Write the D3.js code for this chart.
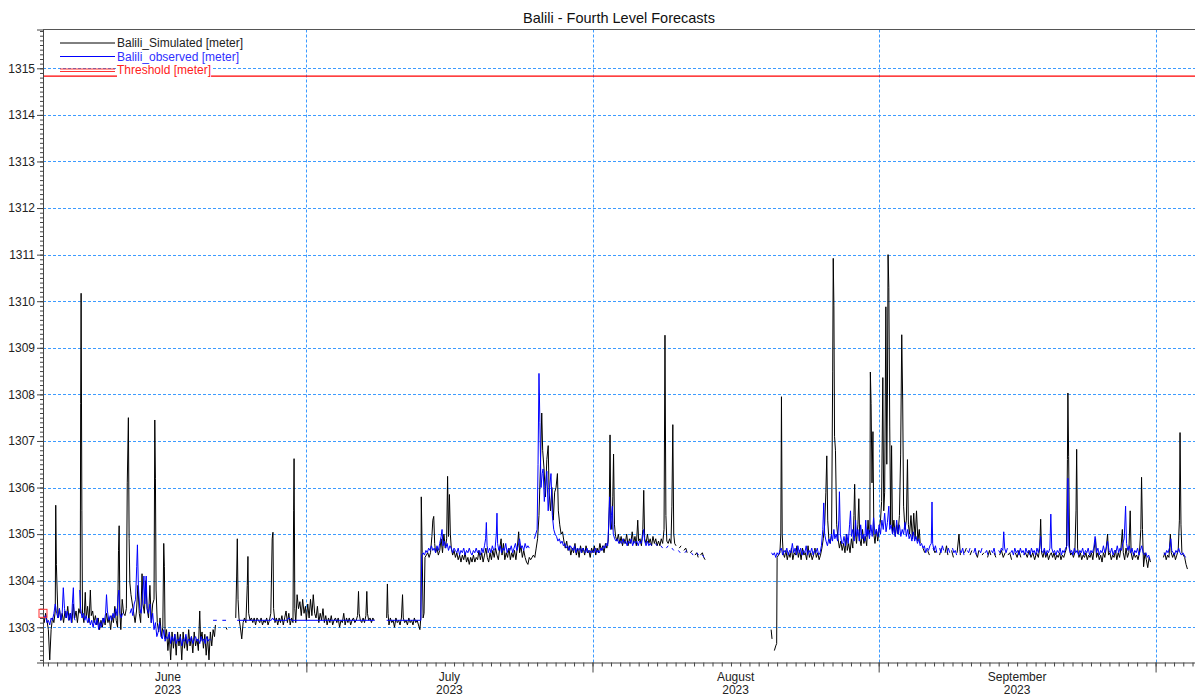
<!DOCTYPE html>
<html>
<head>
<meta charset="utf-8">
<script src="https://cdn.jsdelivr.net/npm/d3@7"></script>
<style>
body { margin: 0; background: #fff; }
svg { display: block; font-family: Arial, "Liberation Sans", sans-serif; }
</style>
</head>
<body>
<div id="chart"></div>
<script>
// values are [days since 1 June 2023, level in meter], null = gap
var simJun = [[1.47,1303.25],[1.6,1303.1],[1.75,1303.3],[1.9,1303.15],[2.05,1302.95],[2.2,1302.3],[2.35,1302.95],[2.5,1303.2],[2.65,1303.1],[2.8,1303.35],[2.85,1305.62],[2.92,1304.35],[3.0,1303.8],[3.1,1303.2],[3.25,1303.4],[3.4,1303.15],[3.55,1303.3],[3.7,1303.1],[3.85,1303.35],[4.0,1303.2],[4.15,1303.45],[4.3,1303.15],[4.45,1303.3],[4.6,1303.1],[4.75,1303.5],[4.9,1303.2],[5.05,1303.35],[5.2,1303.1],[5.35,1303.4],[5.5,1303.3],[5.55,1307.8],[5.6,1310.17],[5.68,1305.5],[5.75,1303.3],[5.9,1303.1],[6.05,1303.75],[6.15,1303.2],[6.3,1303.45],[6.45,1303.1],[6.6,1303.8],[6.7,1303.25],[6.85,1303.35],[7.0,1303.1],[7.15,1303.25],[7.3,1303.05],[7.45,1303.2],[7.6,1302.95],[7.75,1303.15],[7.9,1303.0],[8.05,1303.2],[8.2,1303.05],[8.35,1303.3],[8.5,1303.1],[8.65,1303.2],[8.8,1302.95],[8.95,1303.25],[9.1,1303.1],[9.25,1303.45],[9.4,1303.15],[9.55,1303.0],[9.65,1304.65],[9.72,1305.18],[9.8,1303.3],[9.9,1302.95],[10.05,1303.6],[10.2,1303.3],[10.35,1303.25],[10.5,1303.4],[10.6,1306.1],[10.72,1307.5],[10.8,1304.9],[10.88,1303.95],[11.0,1303.7],[11.15,1303.5],[11.3,1303.3],[11.45,1303.1],[11.6,1303.35],[11.75,1303.9],[11.9,1303.3],[12.05,1303.1],[12.2,1304.15],[12.3,1303.5],[12.45,1303.3],[12.6,1304.0],[12.75,1303.4],[12.9,1303.2],[13.05,1303.9],[13.2,1303.1],[13.35,1303.5],[13.5,1303.6],[13.58,1307.45],[13.65,1306.2],[13.72,1303.8],[13.85,1303.1],[14.0,1302.9],[14.15,1303.2],[14.3,1302.8],[14.45,1303.0],[14.55,1304.8],[14.62,1304.3],[14.7,1302.75],[14.85,1302.95],[15.0,1302.5],[15.15,1302.85],[15.3,1302.3],[15.45,1302.9],[15.6,1302.55],[15.75,1302.85],[15.9,1302.4],[16.05,1302.9],[16.2,1302.6],[16.35,1302.85],[16.5,1302.3],[16.65,1302.9],[16.8,1302.55],[16.95,1302.8],[17.1,1302.5],[17.25,1302.95],[17.4,1302.6],[17.55,1302.8],[17.7,1302.45],[17.85,1302.9],[18.0,1302.6],[18.15,1302.75],[18.3,1302.5],[18.45,1303.35],[18.55,1302.7],[18.7,1302.9],[18.85,1302.55],[19.0,1302.85],[19.15,1302.4],[19.3,1302.8],[19.45,1302.3],[19.6,1302.9],[19.75,1302.6],[19.9,1302.95],[20.05,1302.8],[20.15,1303.05],null,[21.3,1303.0],[21.4,1302.95],null,
  [22.35,1303.2],[22.45,1304.1],[22.52,1304.9],[22.6,1303.6],[22.7,1303.2],[22.85,1303.0],[23.0,1302.75],[23.15,1303.1],[23.3,1303.2],[23.45,1303.1],[23.6,1303.9],[23.67,1304.52],[23.75,1303.3],[23.9,1303.15],[24.05,1303.2],[24.2,1303.1],[24.35,1303.2],[24.5,1303.05],[24.65,1303.2],[24.8,1303.15],[24.95,1303.1],[25.1,1303.2],[25.25,1303.05],[25.4,1303.15],[25.55,1303.1],[25.7,1303.2],[25.85,1303.05],[26.0,1303.15],[26.15,1303.3],[26.3,1304.9],[26.38,1305.04],[26.45,1303.4],[26.6,1303.1],[26.75,1303.2],[26.9,1303.05],[27.05,1303.2],[27.2,1303.1],[27.35,1303.25],[27.5,1303.05],[27.65,1303.2],[27.8,1303.35],[27.95,1303.1],[28.1,1303.3],[28.25,1303.05],[28.4,1303.2],[28.55,1303.1],[28.62,1305.5],[28.67,1306.62],[28.75,1303.4],[28.85,1303.1],[29.0,1303.7],[29.15,1303.4],[29.3,1303.55],[29.45,1303.25],[29.6,1303.6],[29.75,1303.3],[29.9,1303.45],[30.0,1303.15]];

var simJul = [[30.15,1303.5],[30.3,1303.2],[30.45,1303.6],[30.6,1303.25],[30.75,1303.7],[30.9,1303.3],[31.05,1303.2],[31.2,1303.45],[31.35,1303.1],[31.5,1303.3],[31.65,1303.15],[31.8,1303.4],[31.95,1303.1],[32.1,1303.25],[32.25,1303.05],[32.4,1303.2],[32.55,1303.1],[32.7,1303.25],[32.85,1303.05],[33.0,1303.15],[33.15,1303.2],[33.3,1303.1],[33.45,1303.2],[33.6,1303.0],[33.75,1303.15],[33.9,1303.1],[34.05,1303.3],[34.2,1303.05],[34.35,1303.2],[34.5,1303.1],[34.65,1303.2],[34.8,1303.05],[34.95,1303.15],[35.1,1303.2],[35.25,1303.1],[35.4,1303.15],[35.55,1303.25],[35.65,1303.77],[35.72,1303.3],[35.85,1303.15],[36.0,1303.1],[36.15,1303.2],[36.3,1303.1],[36.45,1303.25],[36.55,1303.77],[36.62,1303.3],[36.75,1303.15],[36.9,1303.2],[37.05,1303.1],[37.2,1303.2],[37.35,1303.15],null,
  [38.7,1303.2],[38.78,1303.93],[38.85,1303.3],[38.95,1303.05],[39.1,1303.2],[39.25,1303.1],[39.4,1303.15],[39.55,1303.0],[39.7,1303.2],[39.85,1303.1],[40.0,1303.15],[40.15,1303.05],[40.3,1303.2],[40.42,1303.7],[40.5,1303.2],[40.65,1303.1],[40.8,1303.15],[40.95,1303.05],[41.1,1303.2],[41.25,1303.1],[41.4,1303.15],[41.55,1303.05],[41.7,1303.2],[41.85,1303.1],[42.0,1303.15],[42.15,1303.05],[42.3,1302.95],[42.4,1303.2],[42.45,1305.8],[42.55,1304.6],[42.65,1303.2],[42.75,1303.3],[42.85,1304.5],[43.0,1304.55],[43.15,1304.6],[43.3,1304.5],[43.45,1304.6],[43.6,1304.95],[43.7,1305.3],[43.8,1305.38],[43.9,1304.8],[44.0,1304.6],[44.15,1304.7],[44.3,1304.55],[44.45,1304.65],[44.6,1304.9],[44.75,1304.6],[44.9,1305.0],[45.05,1304.7],[45.2,1304.9],[45.3,1306.24],[45.4,1304.95],[45.5,1305.85],[45.6,1305.0],[45.7,1304.7],[45.85,1304.55],[46.0,1304.65],[46.15,1304.5],[46.3,1304.6],[46.45,1304.45],[46.6,1304.55],[46.75,1304.4],[46.9,1304.55],[47.05,1304.45],[47.2,1304.6],[47.35,1304.4],[47.5,1304.5],[47.65,1304.35],[47.8,1304.5],[47.95,1304.4],[48.1,1304.55],[48.25,1304.4],[48.4,1304.5],[48.55,1304.45],[48.7,1304.65],[48.85,1304.45],[49.0,1304.6],[49.15,1304.4],[49.3,1304.55],[49.45,1304.7],[49.6,1304.5],[49.75,1304.4],[49.9,1304.6],[50.05,1304.45],[50.2,1304.65],[50.35,1304.5],[50.5,1304.7],[50.65,1304.55],[50.8,1304.45],[50.95,1304.7],[51.1,1304.9],[51.2,1304.55],[51.35,1304.8],[51.5,1304.45],[51.65,1304.6],[51.8,1304.5],[51.95,1304.7],[52.1,1304.45],[52.25,1304.6],[52.4,1304.5],[52.55,1304.65],[52.7,1304.45],[52.85,1304.7],[53.0,1305.05],[53.1,1304.6],[53.25,1304.75],[53.4,1304.5],[53.55,1304.65],[53.7,1304.5],[53.85,1304.4],[54.0,1304.35],[54.15,1304.5],[54.3,1304.45],[54.45,1304.5],[54.6,1304.55],[54.75,1304.5],[54.9,1304.7],[55.05,1304.9],[55.2,1305.4],[55.35,1306.4],[55.5,1307.6],[55.6,1306.8],[55.75,1306.4],[55.9,1305.8],[56.05,1306.6],[56.2,1306.9],[56.3,1305.9],[56.45,1305.5],[56.6,1306.0],[56.75,1305.3],[56.9,1305.9],[57.05,1306.0],[57.2,1306.3],[57.3,1305.5],[57.45,1305.2],[57.6,1305.0],[57.75,1305.05],[57.9,1304.85],[58.05,1304.7],[58.2,1304.85],[58.35,1304.65],[58.5,1304.75],[58.65,1304.55],[58.8,1304.7],[58.95,1304.6],[59.1,1304.8],[59.25,1304.55],[59.4,1304.7],[59.55,1304.5],[59.7,1304.75],[59.85,1304.6],[60.0,1304.7],[60.15,1304.55],[60.3,1304.75],[60.45,1304.6],[60.6,1304.65],[60.75,1304.5],[60.9,1304.7]];

var simAug = [[61.05,1304.6],[61.2,1304.75],[61.35,1304.55],[61.5,1304.7],[61.65,1304.6],[61.8,1304.8],[61.95,1304.65],[62.1,1304.75],[62.25,1304.6],[62.4,1304.8],[62.55,1304.7],[62.7,1304.85],[62.82,1305.6],[62.9,1307.13],[62.98,1305.3],[63.1,1305.1],[63.2,1305.8],[63.28,1306.72],[63.38,1305.2],[63.5,1304.95],[63.65,1304.85],[63.8,1305.0],[63.95,1304.8],[64.1,1304.95],[64.25,1304.75],[64.4,1304.9],[64.55,1304.8],[64.7,1305.0],[64.85,1304.75],[65.0,1304.9],[65.15,1304.8],[65.3,1305.05],[65.45,1304.8],[65.6,1304.95],[65.75,1304.75],[65.9,1305.3],[66.0,1304.85],[66.15,1304.9],[66.3,1304.75],[66.45,1305.1],[66.55,1305.94],[66.65,1304.9],[66.8,1304.8],[66.95,1305.0],[67.1,1304.8],[67.25,1304.9],[67.4,1304.75],[67.55,1304.95],[67.7,1304.8],[67.85,1304.9],[68.0,1304.75],[68.15,1304.85],[68.3,1304.75],[68.45,1304.9],[68.6,1304.8],[68.75,1305.1],[68.85,1309.27],[68.95,1305.4],[69.05,1304.85],[69.2,1304.8],[69.35,1304.9],[69.5,1304.8],[69.6,1305.6],[69.7,1307.35],[69.8,1305.0],[69.9,1304.8],[70.05,1304.75],null,[70.4,1304.7],[70.6,1304.75],null,[70.9,1304.65],[71.1,1304.7],[71.25,1304.6],null,[71.6,1304.6],[71.8,1304.65],null,[72.1,1304.55],[72.3,1304.6],[72.45,1304.5],null,[72.7,1304.55],[72.9,1304.6],[73.05,1304.5],[73.2,1304.45],null,
  [80.35,1302.95],[80.45,1302.75],null,[80.7,1302.5],[80.85,1302.6],[80.95,1302.65],[81.0,1304.5],[81.15,1304.55],[81.3,1304.6],[81.4,1305.0],[81.47,1307.95],[81.55,1305.0],[81.65,1304.6],[81.8,1304.5],[81.95,1304.65],[82.1,1304.45],[82.25,1304.6],[82.4,1304.5],[82.55,1304.7],[82.7,1304.45],[82.85,1304.6],[83.0,1304.55],[83.15,1304.75],[83.3,1304.5],[83.45,1304.65],[83.6,1304.45],[83.75,1304.7],[83.9,1304.55],[84.05,1304.6],[84.2,1304.45],[84.35,1304.75],[84.5,1304.5],[84.65,1304.6],[84.8,1304.45],[84.95,1304.55],[85.1,1304.7],[85.25,1304.5],[85.4,1304.6],[85.55,1304.45],[85.7,1304.55],[85.85,1304.7],[86.0,1304.9],[86.15,1305.2],[86.28,1305.9],[86.38,1306.68],[86.48,1305.3],[86.6,1304.9],[86.75,1304.8],[86.9,1305.0],[87.02,1308.5],[87.08,1310.92],[87.15,1309.9],[87.22,1307.1],[87.32,1306.8],[87.45,1305.2],[87.6,1304.9],[87.75,1304.7],[87.9,1304.85],[88.05,1304.65],[88.2,1304.8],[88.35,1304.6],[88.5,1305.0],[88.6,1304.65],[88.75,1304.8],[88.9,1304.6],[89.05,1304.9],[89.2,1304.7],[89.32,1305.4],[89.4,1306.07],[89.5,1305.0],[89.6,1304.8],[89.75,1305.2],[89.85,1305.76],[89.95,1304.9],[90.1,1304.75],[90.25,1305.1],[90.4,1304.8],[90.55,1304.95],[90.7,1304.75],[90.85,1305.3],[90.95,1305.0],[91.05,1305.1],[91.1,1308.48],[91.18,1307.8],[91.28,1306.1],[91.38,1307.2],[91.48,1305.0],[91.6,1304.8],[91.75,1305.1],[91.9,1304.85]];

var simSep = [[92.05,1305.1],[92.2,1305.3],[92.32,1305.7],[92.45,1308.36],[92.55,1305.5],[92.65,1305.9],[92.78,1309.88],[92.88,1306.5],[92.95,1308.0],[93.02,1311.0],[93.1,1310.3],[93.2,1307.3],[93.3,1305.2],[93.4,1306.9],[93.5,1305.0],[93.65,1305.3],[93.8,1304.95],[93.95,1305.2],[94.1,1305.0],[94.25,1305.4],[94.38,1306.7],[94.5,1309.28],[94.6,1307.9],[94.7,1305.6],[94.85,1305.1],[95.0,1305.3],[95.12,1306.6],[95.22,1305.2],[95.35,1305.0],[95.5,1305.4],[95.65,1304.9],[95.8,1305.45],[95.95,1304.9],[96.1,1305.5],[96.25,1304.85],[96.4,1305.1],[96.5,1304.8],null,
  [96.8,1304.7],[97.0,1304.6],null,[97.3,1304.65],[97.5,1304.55],null,[97.9,1304.7],[98.1,1304.6],[98.25,1304.65],null,[98.6,1304.55],[98.8,1304.7],null,[99.2,1304.6],[99.35,1304.75],[99.5,1304.55],null,[99.9,1304.65],[100.1,1304.5],null,[100.5,1304.6],[100.7,1305.0],[100.85,1304.55],null,[101.3,1304.6],[101.5,1304.7],null,[101.9,1304.55],[102.1,1304.65],null,[102.5,1304.6],[102.7,1304.5],[102.85,1304.65],null,[103.2,1304.55],[103.4,1304.6],null,[103.8,1304.5],[104.0,1304.65],[104.15,1304.55],null,[104.5,1304.6],[104.7,1304.5],null,[105.1,1304.55],[105.3,1304.65],[105.5,1304.5],[105.7,1304.6],null,[106.0,1304.55],[106.2,1304.6],[106.4,1304.45],null,[106.8,1304.6],[107.0,1304.5],[107.2,1304.65],[107.4,1304.5],null,
  [107.7,1304.55],[107.9,1304.6],[108.1,1304.5],[108.3,1304.65],[108.5,1304.5],[108.7,1304.6],[108.9,1304.45],[109.1,1304.6],[109.3,1304.5],[109.45,1304.7],[109.55,1305.32],[109.65,1304.6],[109.8,1304.5],[109.95,1304.65],[110.1,1304.5],[110.25,1304.6],[110.4,1304.45],[110.55,1304.55],[110.7,1304.6],[110.85,1304.5],[111.0,1304.6],[111.15,1304.45],[111.3,1304.55],[111.45,1304.5],[111.6,1304.6],[111.75,1304.45],[111.9,1304.55],[112.05,1304.5],[112.2,1304.6],[112.35,1304.7],[112.45,1306.6],[112.5,1308.03],[112.58,1306.67],[112.68,1304.7],[112.8,1304.55],[112.95,1304.6],[113.1,1304.5],[113.25,1304.6],[113.38,1305.5],[113.45,1306.82],[113.55,1304.7],[113.7,1304.5],[113.85,1304.6],[114.0,1304.45],[114.15,1304.55],[114.3,1304.5],[114.45,1304.6],[114.6,1304.45],[114.75,1304.55],[114.9,1304.5],[115.05,1304.6],[115.2,1304.45],[115.35,1304.7],[115.5,1304.9],[115.6,1304.5],[115.75,1304.6],[115.9,1304.45],[116.05,1304.55],[116.2,1304.4],[116.35,1304.6],[116.5,1304.5],[116.65,1304.7],[116.8,1305.0],[116.9,1304.55],[117.05,1304.6],[117.2,1304.45],[117.35,1304.55],[117.5,1304.5],[117.65,1304.65],[117.8,1304.45],[117.95,1304.6],[118.1,1304.5],[118.25,1304.7],[118.4,1305.1],[118.5,1304.6],[118.65,1304.45],[118.8,1304.7],[118.95,1304.5],[119.1,1304.6],[119.25,1305.5],[119.35,1304.6],[119.5,1304.45],[119.65,1304.6],[119.8,1304.5],[119.95,1304.55],[120.1,1304.45],[120.25,1304.6],[120.4,1305.1],[120.48,1306.22],[120.58,1305.1],[120.7,1304.3],[120.85,1304.6],[121.0,1304.45],[121.15,1304.28],[121.3,1304.5],[121.45,1304.4],null,
  [122.85,1304.5],[123.0,1304.6],[123.15,1304.45],[123.3,1304.55],[123.45,1304.5],[123.6,1305.0],[123.7,1304.6],[123.85,1304.5],[124.0,1304.6],[124.15,1304.45],[124.3,1304.55],[124.45,1304.65],[124.58,1305.3],[124.65,1307.18],[124.75,1305.2],[124.85,1304.6],[125.0,1304.55],[125.15,1304.5],[125.3,1304.35],[125.45,1304.25]];

var obsJun = [[1.47,1303.3],[1.6,1303.2],[1.75,1303.25],[1.9,1303.1],[2.05,1303.15],[2.2,1303.05],[2.35,1303.2],[2.5,1303.15],[2.65,1303.3],[2.8,1303.5],[2.95,1303.3],[3.1,1303.2],[3.25,1303.4],[3.4,1303.15],[3.55,1303.3],[3.67,1303.85],[3.8,1303.4],[3.95,1303.2],[4.1,1303.35],[4.25,1303.15],[4.4,1303.3],[4.55,1303.1],[4.65,1303.5],[4.76,1303.85],[4.85,1303.2],[4.95,1303.15],null,
  [5.45,1303.8],[5.55,1303.4],[5.7,1303.2],[5.85,1303.3],[6.0,1303.15],[6.15,1303.25],[6.3,1303.1],[6.45,1303.2],[6.6,1303.05],[6.75,1303.15],[6.9,1303.0],[7.05,1303.15],[7.2,1303.05],[7.35,1303.2],[7.5,1302.95],[7.65,1303.1],[7.8,1303.0],[7.95,1303.2],[8.1,1303.1],[8.25,1303.3],[8.35,1303.7],[8.45,1303.35],[8.6,1303.15],[8.75,1303.25],[8.9,1303.15],[9.05,1303.3],[9.2,1303.2],[9.35,1303.4],[9.5,1303.25],[9.6,1303.65],[9.7,1303.8],[9.8,1303.3],[9.95,1303.2],[10.1,1303.3],null,
  [10.9,1303.3],[11.05,1303.4],[11.2,1303.25],[11.35,1303.5],[11.5,1303.6],[11.62,1304.3],[11.7,1304.77],[11.8,1303.9],[11.95,1303.4],[12.1,1303.3],[12.25,1303.6],[12.4,1304.1],[12.5,1303.5],[12.65,1304.1],[12.75,1303.4],[12.9,1303.3],[13.05,1303.5],[13.2,1303.1],[13.35,1303.3],[13.5,1302.95],[13.65,1303.1],[13.8,1302.8],[13.95,1302.9],[14.1,1303.1],[14.25,1302.8],[14.4,1302.75],[14.55,1302.95],[14.7,1302.7],[14.85,1302.8],[15.0,1302.75],[15.15,1302.9],[15.3,1302.65],[15.45,1302.8],[15.6,1302.7],[15.75,1302.85],[15.9,1302.65],[16.05,1302.75],[16.2,1302.7],[16.35,1302.8],[16.5,1302.6],[16.65,1302.75],[16.8,1302.7],[16.95,1302.85],[17.1,1302.65],[17.25,1302.75],[17.4,1302.7],[17.55,1302.8],[17.7,1302.65],[17.85,1302.75],[18.0,1302.8],[18.15,1302.7],[18.3,1302.75],[18.45,1302.65],[18.6,1302.8],[18.75,1302.7],[18.9,1302.75],[19.05,1302.65],[19.2,1302.8],[19.35,1302.7],[19.5,1302.75],[19.65,1302.72],null,
  [19.9,1303.15],[20.3,1303.15],null,[20.9,1303.15],[21.3,1303.15],null,[22.5,1303.15],[26.2,1303.15],[26.35,1303.2],[26.5,1303.15],[27.9,1303.15],[28.1,1303.2],[28.4,1303.15],[30.0,1303.15]];

var obsJul = [[30.0,1303.15],[37.4,1303.15],null,[38.7,1303.15],[42.4,1303.15],[42.5,1304.55],[42.65,1304.6],[42.8,1304.55],[42.95,1304.65],[43.1,1304.6],[43.25,1304.7],[43.4,1304.65],[43.55,1304.75],[43.7,1304.65],[43.85,1304.7],[44.0,1304.6],[44.15,1304.75],[44.3,1304.65],[44.45,1304.8],[44.6,1304.95],[44.7,1305.1],[44.8,1304.75],[44.95,1304.85],[45.1,1304.7],[45.25,1304.8],[45.4,1304.65],[45.55,1304.75],[45.7,1304.7],[45.85,1304.6],[46.0,1304.7],[46.15,1304.65],[46.3,1304.6],[46.45,1304.7],[46.6,1304.55],[46.75,1304.65],[46.9,1304.6],[47.05,1304.7],[47.2,1304.55],[47.35,1304.65],[47.5,1304.6],[47.65,1304.7],[47.8,1304.6],[47.95,1304.55],[48.1,1304.65],[48.25,1304.6],[48.4,1304.7],[48.55,1304.6],[48.7,1304.65],[48.85,1304.55],[49.0,1304.7],[49.15,1304.6],[49.3,1304.75],[49.42,1304.9],[49.5,1305.25],[49.58,1304.75],[49.7,1304.6],[49.85,1304.7],[50.0,1304.6],[50.15,1304.75],[50.3,1304.65],[50.45,1304.7],[50.58,1305.0],[50.65,1305.45],[50.72,1304.8],[50.85,1304.65],[51.0,1304.75],[51.15,1304.6],[51.3,1304.7],[51.45,1304.65],[51.6,1304.8],[51.75,1304.6],[51.9,1304.7],[52.05,1304.65],[52.2,1304.75],[52.35,1304.6],[52.5,1304.7],[52.65,1304.8],[52.8,1304.65],[52.95,1304.75],[53.1,1304.9],[53.25,1304.7],[53.4,1304.75],[53.55,1304.65],[53.7,1304.8],[53.85,1304.7],[54.0,1304.75],[54.15,1304.7],null,
  [54.7,1304.9],[54.85,1305.0],[55.0,1305.1],[55.1,1306.5],[55.2,1308.45],[55.3,1307.4],[55.42,1306.0],[55.55,1306.3],[55.65,1306.4],[55.78,1305.7],[55.9,1306.0],[56.05,1306.35],[56.2,1305.5],[56.35,1306.0],[56.5,1306.3],[56.65,1305.4],[56.8,1305.1],[56.95,1305.0],[57.1,1304.95],[57.25,1304.85],[57.4,1304.9],[57.55,1304.8],[57.7,1304.85],[57.85,1304.75],[58.0,1304.8],[58.15,1304.7],[58.3,1304.75],[58.45,1304.65],[58.6,1304.75],[58.75,1304.7],[58.9,1304.65],[59.05,1304.75],[59.2,1304.6],[59.35,1304.7],[59.5,1304.65],[59.65,1304.7],[59.8,1304.6],[59.95,1304.7],[60.1,1304.65],[60.25,1304.6],[60.4,1304.7],[60.55,1304.6],[60.7,1304.65],[60.85,1304.6]];

var obsAug = [[61.0,1304.65],[61.15,1304.6],[61.3,1304.7],[61.45,1304.6],[61.6,1304.65],[61.75,1304.6],[61.9,1304.7],[62.05,1304.65],[62.2,1304.75],[62.35,1304.7],[62.5,1304.8],[62.65,1304.75],[62.75,1305.2],[62.85,1305.8],[62.95,1305.1],[63.05,1305.4],[63.15,1305.6],[63.25,1305.0],[63.4,1304.9],[63.55,1304.85],[63.7,1304.9],[63.85,1304.8],[64.0,1304.85],[64.15,1304.8],[64.3,1304.9],[64.45,1304.8],[64.6,1304.85],[64.75,1304.75],[64.9,1304.85],[65.05,1304.8],[65.2,1304.9],[65.35,1304.75],[65.5,1304.85],[65.65,1304.8],[65.8,1304.85],[65.95,1304.75],[66.1,1304.85],[66.25,1304.8],[66.4,1304.9],[66.55,1305.1],[66.65,1304.85],[66.8,1304.75],[66.95,1304.85],[67.1,1304.75],[67.25,1304.8],[67.4,1304.75],null,[67.8,1304.8],[68.0,1304.75],null,[68.4,1304.75],[68.6,1304.7],null,[69.0,1304.7],[69.2,1304.75],null,[69.6,1304.7],[69.8,1304.65],null,[70.3,1304.65],[70.5,1304.6],null,[71.0,1304.6],[71.2,1304.65],null,[71.7,1304.6],[71.9,1304.55],null,[72.3,1304.6],[72.5,1304.55],null,[72.9,1304.55],[73.1,1304.5],null,
  [80.4,1304.6],[80.55,1304.55],[80.7,1304.6],[80.85,1304.5],[81.0,1304.6],[81.15,1304.55],[81.3,1304.65],[81.45,1304.7],[81.6,1304.55],[81.75,1304.65],[81.9,1304.6],[82.05,1304.7],[82.2,1304.55],[82.35,1304.65],[82.5,1304.6],[82.65,1304.8],[82.8,1304.6],[82.95,1304.7],[83.1,1304.55],[83.25,1304.75],[83.4,1304.6],[83.55,1304.7],[83.7,1304.55],[83.85,1304.65],[84.0,1304.6],[84.15,1304.75],[84.3,1304.55],[84.45,1304.65],[84.6,1304.6],[84.75,1304.7],[84.9,1304.55],[85.05,1304.65],[85.2,1304.6],[85.35,1304.7],[85.5,1304.55],[85.65,1304.6],[85.8,1304.75],[85.95,1305.1],[86.05,1305.67],[86.15,1305.0],[86.3,1304.85],[86.45,1304.75],[86.6,1304.9],[86.75,1304.8],[86.9,1305.0],[87.0,1304.85],[87.15,1305.1],[87.25,1304.9],[87.4,1305.0],[87.55,1304.85],[87.68,1305.3],[87.75,1305.91],[87.85,1305.0],[88.0,1304.8],[88.1,1304.8],[88.25,1304.95],[88.4,1304.75],[88.55,1305.0],[88.7,1304.8],[88.85,1305.2],[88.95,1305.5],[89.05,1304.95],[89.2,1305.1],[89.35,1304.85],[89.5,1305.3],[89.6,1304.95],[89.75,1305.1],[89.9,1304.85],[90.05,1305.2],[90.2,1304.9],[90.35,1305.0],[90.5,1304.85],[90.6,1305.3],[90.7,1304.95],[90.85,1305.1],[91.0,1304.9],[91.15,1305.2],[91.3,1304.95],[91.45,1305.35],[91.6,1305.0],[91.75,1305.1],[91.9,1304.95]];

var obsSep = [[92.05,1305.2],[92.2,1305.0],[92.35,1305.3],[92.5,1305.1],[92.65,1305.45],[92.8,1305.05],[92.95,1305.25],[93.1,1305.6],[93.2,1305.1],[93.35,1305.2],[93.5,1305.0],[93.65,1305.15],[93.8,1304.95],[93.95,1305.3],[94.1,1305.0],[94.25,1305.2],[94.4,1304.95],[94.55,1305.1],[94.7,1305.0],[94.85,1305.25],[95.0,1304.95],[95.15,1305.1],[95.3,1304.9],[95.45,1305.0],[95.6,1304.85],[95.75,1305.05],[95.9,1304.85],[96.05,1304.95],[96.2,1304.8],[96.35,1304.9],[96.5,1304.75],[96.65,1304.8],[96.8,1304.7],[96.95,1304.75],[97.1,1304.6],[97.25,1304.7],[97.4,1304.65],[97.55,1304.75],[97.7,1304.8],[97.78,1305.69],[97.85,1304.8],[98.0,1304.65],[98.15,1304.75],[98.3,1304.6],null,
  [98.6,1304.7],[98.75,1304.6],[98.9,1304.75],[99.05,1304.65],null,[99.4,1304.6],[99.55,1304.7],[99.7,1304.6],null,[100.0,1304.7],[100.15,1304.6],[100.3,1304.65],[100.45,1304.55],null,[100.8,1304.65],[100.95,1304.6],[101.1,1304.7],[101.25,1304.55],null,[101.6,1304.65],[101.75,1304.6],[101.9,1304.7],null,[102.3,1304.6],[102.45,1304.7],[102.6,1304.55],null,[102.9,1304.65],[103.05,1304.6],[103.2,1304.7],null,[103.55,1304.6],[103.7,1304.65],[103.85,1304.55],null,[104.2,1304.65],[104.35,1304.6],[104.5,1304.7],[104.65,1304.55],null,
  [105.0,1304.65],[105.15,1304.6],[105.3,1304.7],[105.45,1304.65],[105.55,1305.05],[105.65,1304.7],[105.8,1304.6],[105.95,1304.7],null,[106.3,1304.6],[106.45,1304.65],[106.6,1304.55],[106.75,1304.7],[106.9,1304.6],[107.05,1304.65],[107.2,1304.55],[107.35,1304.7],[107.5,1304.6],[107.65,1304.65],[107.8,1304.55],[107.95,1304.7],[108.1,1304.6],[108.25,1304.65],[108.4,1304.55],[108.55,1304.7],[108.7,1304.6],[108.85,1304.65],[109.0,1304.55],[109.15,1304.7],[109.3,1304.6],[109.45,1304.75],[109.55,1304.95],[109.65,1304.65],[109.8,1304.6],[109.95,1304.7],[110.1,1304.55],[110.25,1304.65],[110.4,1304.6],[110.55,1304.7],[110.65,1305.43],[110.75,1304.7],[110.9,1304.6],[111.05,1304.65],[111.2,1304.55],[111.35,1304.65],[111.5,1304.6],[111.65,1304.7],[111.8,1304.55],[111.95,1304.65],[112.1,1304.6],[112.25,1304.7],[112.4,1304.75],[112.5,1306.2],[112.6,1304.75],[112.75,1304.6],[112.9,1304.65],[113.05,1304.55],[113.2,1304.7],[113.35,1304.6],[113.5,1304.65],[113.65,1304.55],[113.8,1304.65],[113.95,1304.6],[114.1,1304.7],[114.25,1304.55],[114.4,1304.65],[114.55,1304.6],[114.7,1304.7],[114.85,1304.55],[115.0,1304.65],[115.15,1304.6],[115.3,1304.7],[115.45,1304.95],[115.6,1304.6],[115.75,1304.7],[115.9,1304.55],[116.05,1304.65],[116.2,1304.6],[116.35,1304.75],[116.5,1304.6],[116.65,1304.7],[116.8,1304.85],[116.95,1304.65],[117.1,1304.6],[117.25,1304.7],[117.4,1304.55],[117.55,1304.65],[117.7,1304.6],[117.85,1304.75],[118.0,1304.6],[118.15,1304.7],[118.3,1304.65],[118.45,1304.8],[118.6,1304.9],[118.75,1305.6],[118.85,1304.8],[119.0,1304.65],[119.15,1304.75],[119.3,1304.6],[119.45,1304.7],[119.6,1304.55],[119.75,1304.65],[119.9,1304.6],[120.05,1304.7],[120.2,1304.55],[120.35,1304.65],[120.5,1304.75],[120.65,1304.6],[120.8,1304.55],[120.95,1304.6],[121.1,1304.5],[121.25,1304.55],[121.4,1304.45],null,
  [122.9,1304.6],[123.05,1304.55],[123.2,1304.65],[123.35,1304.6],[123.5,1304.7],[123.65,1304.9],[123.75,1304.65],[123.9,1304.6],[124.05,1304.55],[124.2,1304.65],[124.35,1304.6],[124.5,1304.7],[124.65,1304.6],[124.8,1304.55],[124.95,1304.6],[125.1,1304.55],[125.25,1304.5]];

var threshold = 1314.83;
var startMarker = [1.47, 1303.3];
var seriesNames = ["Balili_Simulated [meter]", "Balili_observed [meter]", "Threshold [meter]"];
var seriesColors = ["#000000", "#0000ff", "#ff0000"];
var monthNames = ["June", "July", "August", "September"];
var yearLabel = "2023";
var yTicks = d3.range(1303, 1316);
var titleText = "Balili - Fourth Level Forecasts";

(function() {
var simulated = simJun.concat(simJul, simAug, simSep);
var observed = obsJun.concat(obsJul, obsAug, obsSep);

var width = 1195, height = 700;
var plotLeft = 43, plotRight = 1195, plotTop = 29.5, plotBottom = 662.5;

var t0 = Date.UTC(2023, 5, 1);
function toDate(d) { return new Date(t0 + d * 864e5); }

var x = d3.scaleUtc().domain([toDate(1.47), toDate(126.27)]).range([plotLeft, plotRight]);
var y = d3.scaleLinear().domain([1302.244, 1315.833]).range([plotBottom, plotTop]);

var svg = d3.select("#chart").append("svg")
    .attr("width", width)
    .attr("height", height);

svg.append("rect").attr("width", width).attr("height", height).attr("fill", "#fff");

svg.append("defs").append("clipPath").attr("id", "plot")
    .append("rect").attr("x", plotLeft).attr("y", plotTop)
    .attr("width", plotRight - plotLeft).attr("height", plotBottom - plotTop);

// title
svg.append("text")
    .attr("x", (plotLeft + plotRight) / 2).attr("y", 23)
    .attr("text-anchor", "middle")
    .attr("font-size", "14.5px").attr("fill", "#111")
    .text(titleText);

// grid
var grid = svg.append("g").attr("stroke", "#3d9bff").attr("stroke-width", 1)
    .attr("stroke-dasharray", "3,2");
grid.selectAll(".h").data(yTicks).enter().append("line")
    .attr("x1", plotLeft).attr("x2", plotRight)
    .attr("y1", function(d) { return Math.round(y(d)) + 0.5; })
    .attr("y2", function(d) { return Math.round(y(d)) + 0.5; });
var months = d3.utcMonth.range(x.domain()[0], x.domain()[1]);
grid.selectAll(".v").data(months).enter().append("line")
    .attr("y1", plotTop).attr("y2", plotBottom)
    .attr("x1", function(d) { return Math.round(x(d)) + 0.5; })
    .attr("x2", function(d) { return Math.round(x(d)) + 0.5; });

// series
var line = d3.line()
    .defined(function(d) { return d !== null; })
    .x(function(d) { return x(toDate(d[0])); })
    .y(function(d) { return y(d[1]); });

var plot = svg.append("g").attr("clip-path", "url(#plot)");

plot.append("line")
    .attr("x1", plotLeft).attr("x2", plotRight)
    .attr("y1", y(threshold)).attr("y2", y(threshold))
    .attr("stroke", seriesColors[2]).attr("stroke-width", 1.2);

plot.append("path").datum(simulated)
    .attr("d", line).attr("fill", "none")
    .attr("stroke", seriesColors[0]).attr("stroke-width", 1);

plot.append("path").datum(observed)
    .attr("d", line).attr("fill", "none")
    .attr("stroke", seriesColors[1]).attr("stroke-width", 1);

// axes
var yMinor = d3.range(13023, 13159).map(function(v) { return v / 10; });
svg.append("g").attr("transform", "translate(" + plotLeft + ",0)")
    .call(d3.axisLeft(y).tickValues(yMinor).tickSize(3).tickFormat(""))
    .call(function(g) { g.select(".domain").remove(); g.selectAll("line").attr("stroke", "#444"); });
var yAxis = svg.append("g").attr("transform", "translate(" + plotLeft + ",0)")
    .call(d3.axisLeft(y).tickValues(yTicks).tickSize(6).tickPadding(2).tickFormat(d3.format("d")));
yAxis.selectAll("text").attr("font-size", "12px").attr("fill", "#222").attr("font-family", null);
yAxis.selectAll("line, path").attr("stroke", "#444");
yAxis.attr("font-family", null).attr("font-size", null);

var xMinor = svg.append("g").attr("transform", "translate(0," + plotBottom + ")")
    .call(d3.axisBottom(x).ticks(d3.utcDay.every(1)).tickSize(4).tickFormat(""));
xMinor.select(".domain").attr("stroke", "#444");
xMinor.selectAll("line").attr("stroke", "#444");
svg.append("g").attr("transform", "translate(0," + plotBottom + ")")
    .call(d3.axisBottom(x).ticks(d3.utcMonth.every(1)).tickSize(10).tickFormat(""))
    .call(function(g) { g.select(".domain").remove(); g.selectAll("line").attr("stroke", "#444"); });

// top border
svg.append("line").attr("x1", plotLeft).attr("x2", plotRight)
    .attr("y1", plotTop).attr("y2", plotTop).attr("stroke", "#555");

// month labels centred on each month
var monthStarts = d3.utcMonth.range(new Date(Date.UTC(2023, 5, 1)), new Date(Date.UTC(2023, 9, 2)));
var labels = svg.append("g").attr("font-size", "12px").attr("fill", "#222").attr("text-anchor", "middle");
monthNames.forEach(function(name, i) {
    var mid = (x(monthStarts[i]) + x(monthStarts[i + 1])) / 2;
    labels.append("text").attr("x", mid).attr("y", 681).text(name);
    labels.append("text").attr("x", mid).attr("y", 694).text(yearLabel);
});

// start marker
svg.append("rect")
    .attr("x", x(toDate(startMarker[0])) - 4).attr("y", y(startMarker[1]) - 4)
    .attr("width", 8).attr("height", 8)
    .attr("fill", "none").attr("stroke", "#ff3030");

// legend
var legend = svg.append("g");
seriesNames.forEach(function(name, i) {
    var ly = 43 + i * 13.5;
    var txt = legend.append("text").attr("x", 117).attr("y", ly + 4)
        .attr("font-size", "12px").attr("fill", i == 0 ? "#222" : (i == 1 ? "#3030ff" : "#ff2020"))
        .text(name);
    var bb = txt.node().getBBox();
    legend.insert("rect", "text").attr("x", bb.x).attr("y", ly - 7)
        .attr("width", bb.width).attr("height", 14).attr("fill", "#fff");
    if (i == 2) {
        legend.append("line").attr("x1", 60).attr("x2", 115).attr("y1", ly - 1).attr("y2", ly - 1)
            .attr("stroke", seriesColors[i]).attr("stroke-width", 0.8);
        legend.append("line").attr("x1", 60).attr("x2", 115).attr("y1", ly + 1.5).attr("y2", ly + 1.5)
            .attr("stroke", seriesColors[i]).attr("stroke-width", 0.8);
    } else {
        legend.append("line").attr("x1", 60).attr("x2", 115).attr("y1", ly).attr("y2", ly)
            .attr("stroke", seriesColors[i]).attr("stroke-width", 1);
    }
});
})();
</script>
</body>
</html>
